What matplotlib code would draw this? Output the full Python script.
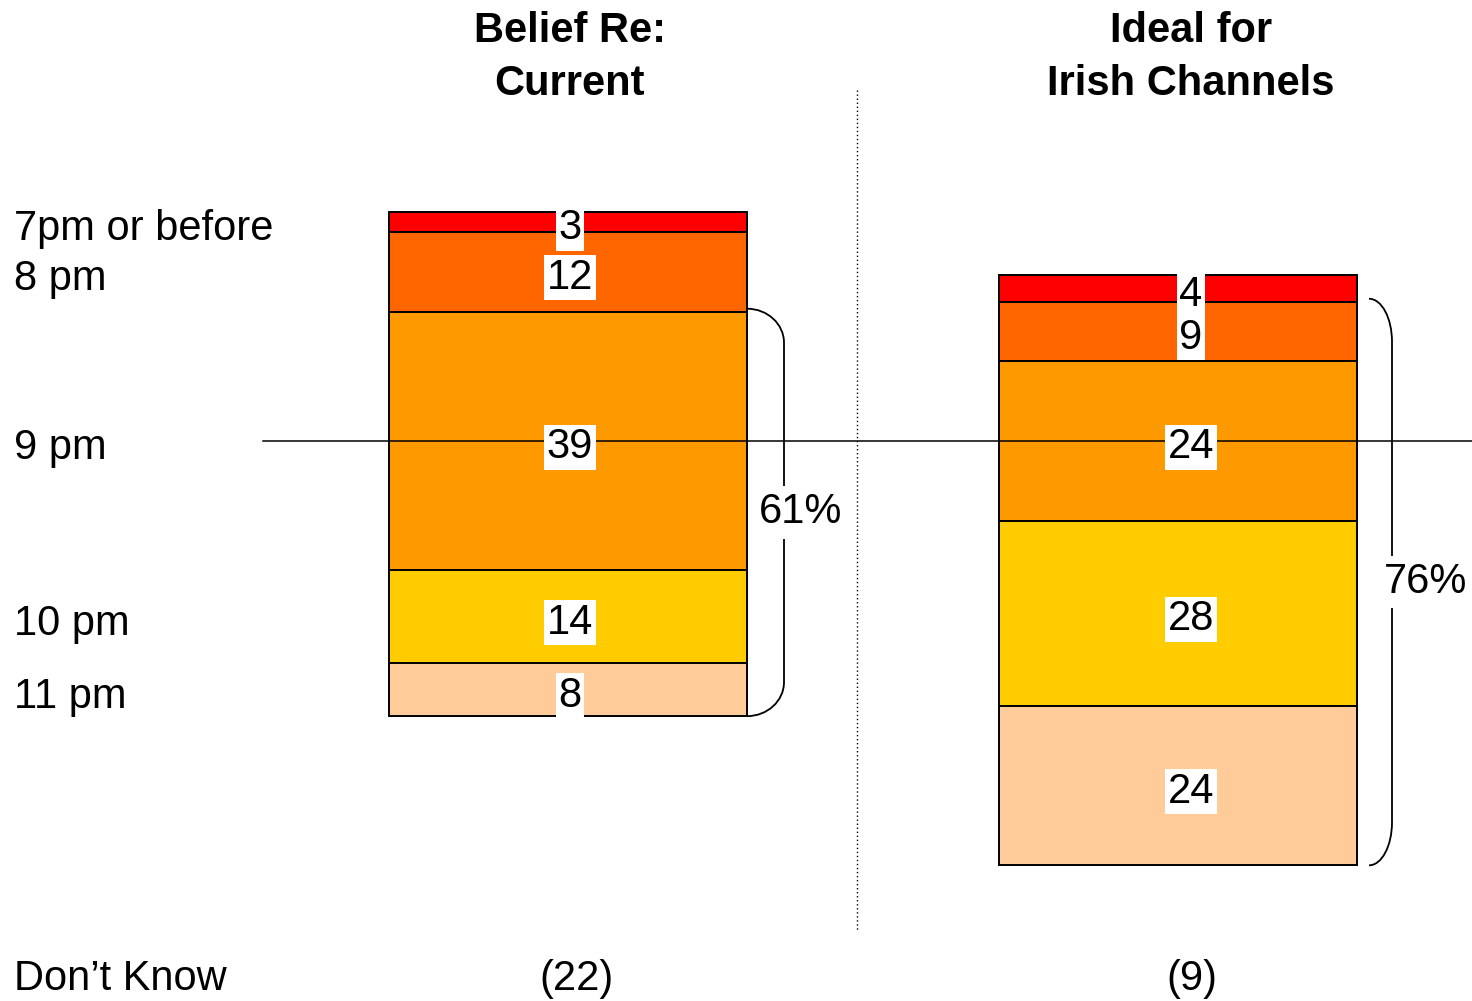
import numpy as np
import matplotlib
matplotlib.use('Agg')
import matplotlib.pyplot as plt
from matplotlib.path import Path
from matplotlib.patches import PathPatch

plt.rcParams['font.family'] = ['Liberation Sans', 'DejaVu Sans']

# Data
categories = ['7pm or before', '8 pm', '9 pm', '10 pm', '11 pm']
current = [3, 12, 39, 14, 8]
ideal = [4, 9, 24, 28, 24]
dont_know = [22, 9]
group_titles = [['Belief Re:', 'Current'], ['Ideal for', 'Irish Channels']]
seg_colors = ['#FF0000', '#FF6600', '#FF9900', '#FFCC00', '#FFCC99']

# Layout (pixels in a 1472 x 1001 canvas)
PX = 6.63          # pixels per percentage point
Y0 = 441           # pixel row of the 9 pm reference line


def py(pix):
    return (pix - Y0) / PX


fig = plt.figure(figsize=(14.72, 10.01), dpi=100)
ax = fig.add_axes([0, 0, 1, 1])
ax.set_xlim(0, 1472)
ax.set_ylim(py(1001), py(0))
ax.axis('off')

bar_x = [568, 1178]
bar_w = 358
label_x = [570, 1191]
fs = 30

seg_centers = []
seg_tops = []
for j, vals in enumerate([current, ideal]):
    vals = np.array(vals, dtype=float)
    # each stack is centred so that the 9 pm block straddles the reference line
    start = -vals[:2].sum() - vals[2] / 2
    bottoms = start + np.concatenate([[0], np.cumsum(vals)[:-1]])
    ax.bar([bar_x[j]] * len(vals), vals, bottom=bottoms, width=bar_w,
           color=seg_colors, edgecolor='black', linewidth=1.4, zorder=2)
    centers = bottoms + vals / 2
    seg_centers.append(centers)
    seg_tops.append(bottoms)
    for v, c in zip(vals, centers):
        ax.annotate(f'{v:.0f}', xy=(label_x[j], c), xytext=(0, -17 * 0.72),
                    textcoords='offset points', ha='center', va='baseline',
                    fontsize=fs, zorder=5,
                    bbox=dict(facecolor='white', edgecolor='none',
                              boxstyle='square,pad=0.06'))

# 9 pm reference line
ax.plot([263, 1472], [0, 0], color='black', lw=1.1, zorder=3)

# dotted divider
ax.plot([857, 857], [py(90), py(930)], color='black', lw=1.0,
        linestyle=(0, (1, 1.9)), dash_capstyle='butt', zorder=1)

# category labels, aligned with the left stack
for cat, c in zip(categories, seg_centers[0]):
    ax.annotate(cat, xy=(14, c), xytext=(0, -18 * 0.72), textcoords='offset points',
                ha='left', va='baseline', fontsize=fs)

# column headers
for j, lines in enumerate(group_titles):
    for line, base in zip(lines, [42, 95]):
        ax.text(label_x[j], py(base), line, ha='center', va='baseline',
                fontsize=fs, fontweight='bold')

# Don't Know row
ax.text(14, py(990), 'Don\u2019t Know', ha='left', va='baseline', fontsize=fs)
for xx, v in zip([576, 1192], dont_know):
    ax.text(xx, py(990), f'({v})', ha='center', va='baseline', fontsize=fs)

# brackets for 9pm-or-later share
k = 0.5523
br_x0 = [747, 1369]
br_x1 = [784, 1392]
br_ry = [34 / PX, 43 / PX]
br_first = [2, 1]
br_text_x = [801, 1426]
for j, vals in enumerate([current, ideal]):
    yt = seg_tops[j][br_first[j]] - 3 / PX
    yb = seg_tops[j][-1] + vals[-1]
    x0, x1, ry = br_x0[j], br_x1[j], br_ry[j]
    rx = x1 - x0
    verts = [(x0, yt), (x0 + k * rx, yt), (x1, yt + ry - k * ry), (x1, yt + ry),
             (x1, yb - ry),
             (x1, yb - ry + k * ry), (x0 + k * rx, yb), (x0, yb)]
    codes = [Path.MOVETO, Path.CURVE4, Path.CURVE4, Path.CURVE4,
             Path.LINETO, Path.CURVE4, Path.CURVE4, Path.CURVE4]
    ax.add_patch(PathPatch(Path(verts, codes), facecolor='none',
                           edgecolor='black', lw=1.3, zorder=3))
    share = sum(vals[2:])
    ax.text(br_text_x[j], (yt + yb) / 2, f'{share}%', ha='center', va='center',
            fontsize=fs, zorder=5,
            bbox=dict(facecolor='white', edgecolor='none', boxstyle='square,pad=0.15'))

fig.savefig('out.png', dpi=100)
